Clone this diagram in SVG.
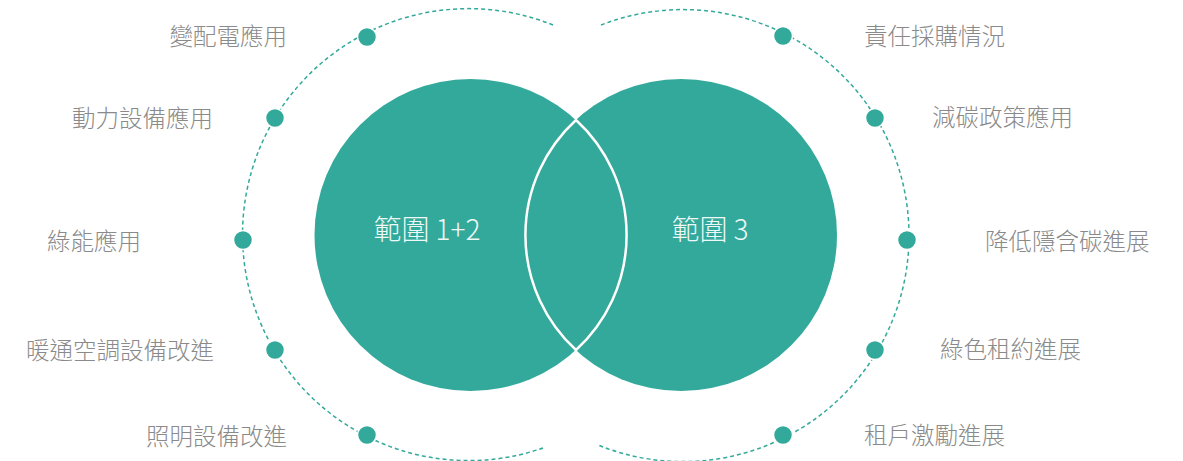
<svg xmlns="http://www.w3.org/2000/svg" width="1183" height="461" viewBox="0 0 1183 461">
<style>
.lbl{font-family:"Noto Sans CJK TC","Noto Sans CJK SC",sans-serif;font-size:23.5px;font-weight:300;fill:#8a8a8a;dominant-baseline:central}
.in{font-family:"Noto Sans CJK TC","Noto Sans CJK SC",sans-serif;font-size:28px;font-weight:300;fill:#eef8f6;dominant-baseline:central;text-anchor:middle}
.dash{fill:none;stroke:#33a99b;stroke-width:1.5;stroke-dasharray:4 3}
.dot{fill:#33a99b;stroke:#fff;stroke-width:1.5}
.big{fill:#33a99b}
</style>
<rect width="1183" height="461" fill="#fff"/>
<g id="connectors">
<path class="dash" d="M 553 25 A 226 226 0 1 0 543 448"/>
<path class="dash" d="M 601 25 A 226 226 0 1 1 598 445"/>
</g>
<g id="scope12">
<circle class="big" cx="470.5" cy="235" r="156"/>
</g>
<g id="scope3">
<circle class="big" cx="681" cy="235" r="156"/>
</g>
<g id="overlap">
<path d="M 576 120 A 156 156 0 0 1 576 350 A 156 156 0 0 1 576 120 Z" fill="none" stroke="#fff" stroke-width="2.5"/>
</g>
<text class="in" x="427" y="228">範圍 1+2</text>
<text class="in" x="710" y="228">範圍 3</text>
<g id="n1"><circle class="dot" cx="367" cy="37" r="9.5"/><text class="lbl" x="287" y="35" text-anchor="end">變配電應用</text></g>
<g id="n2"><circle class="dot" cx="275" cy="118" r="9.5"/><text class="lbl" x="213" y="117" text-anchor="end">動力設備應用</text></g>
<g id="n3"><circle class="dot" cx="243" cy="240" r="9.5"/><text class="lbl" x="141" y="240" text-anchor="end">綠能應用</text></g>
<g id="n4"><circle class="dot" cx="275" cy="350" r="9.5"/><text class="lbl" x="214" y="349" text-anchor="end">暖通空調設備改進</text></g>
<g id="n5"><circle class="dot" cx="367" cy="435" r="9.5"/><text class="lbl" x="287" y="435" text-anchor="end">照明設備改進</text></g>
<g id="n6"><circle class="dot" cx="783" cy="36" r="9.5"/><text class="lbl" x="864" y="35">責任採購情況</text></g>
<g id="n7"><circle class="dot" cx="875" cy="118" r="9.5"/><text class="lbl" x="932" y="116">減碳政策應用</text></g>
<g id="n8"><circle class="dot" cx="907" cy="240" r="9.5"/><text class="lbl" x="985" y="240">降低隱含碳進展</text></g>
<g id="n9"><circle class="dot" cx="875" cy="350" r="9.5"/><text class="lbl" x="940" y="348">綠色租約進展</text></g>
<g id="n10"><circle class="dot" cx="783" cy="435" r="9.5"/><text class="lbl" x="864" y="434">租戶激勵進展</text></g>
</svg>
